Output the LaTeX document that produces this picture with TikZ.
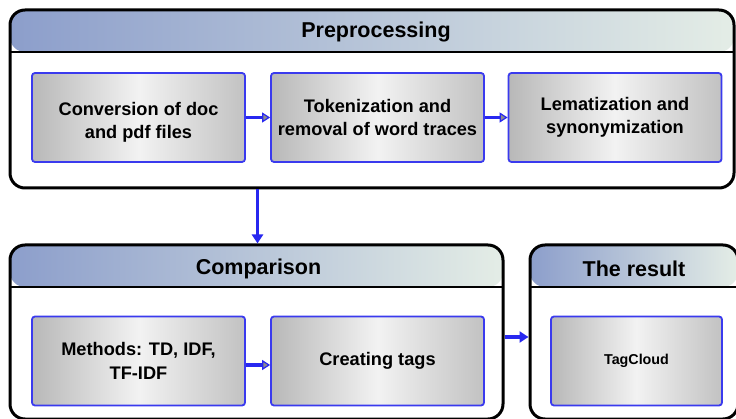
\documentclass[tikz,border=0pt]{standalone}
\usepackage{fontspec}
\setmainfont{Liberation Sans}
\usetikzlibrary{arrows.meta}
\definecolor{hdrleft}{RGB}{140,158,203}
\definecolor{hdrright}{RGB}{228,237,230}
\definecolor{boxedge}{RGB}{58,58,238}
\definecolor{flowblue}{RGB}{40,40,240}
\tikzset{
  panel/.style={draw=black,line width=3pt,rounded corners=15pt,fill=white,
    path picture={
      \shade[left color=hdrleft,right color=hdrright]
        (path picture bounding box.north west) rectangle
        ([yshift=-42pt]path picture bounding box.north east);
      \draw[line width=2.5pt] ([yshift=-42pt]path picture bounding box.north west) --
        ([yshift=-42pt]path picture bounding box.north east);
    }},
  paneltitle/.style={font=\fontsize{21.5}{24}\selectfont\bfseries},
  stage/.style={draw=boxedge,line width=1.8pt,rounded corners=3pt,
    left color=black!28,right color=black!24,middle color=black!5,
    minimum width=213pt,minimum height=89pt,align=center,
    font=\fontsize{18.2}{23.5}\selectfont\bfseries},
  inner/.style={line width=3.2pt,draw=flowblue,
    -{Triangle[length=8pt,width=10pt,line width=1.2pt,fill=black!45]}},
  outer/.style={line width=3.2pt,draw=flowblue,
    -{Triangle[length=9pt,width=11pt,fill=flowblue]}}
}
\begin{document}
\begin{tikzpicture}[x=1pt,y=-1pt]
\useasboundingbox (0,0) rectangle (736,419);
\clip (0,0) rectangle (736,419);
\node[panel,minimum width=724pt,minimum height=178pt] (pre) at (372,99) {};
\node[panel,minimum width=493pt,minimum height=174pt] (cmp) at (256.5,332) {};
\node[panel,minimum width=208pt,minimum height=174pt] (res) at (634,332) {};
\node[paneltitle] (pretitle) at ([xshift=4pt,yshift=-23pt]pre.north) {Preprocessing};
\node[paneltitle] (cmptitle) at ([xshift=2pt,yshift=-25pt]cmp.north) {Comparison};
\node[paneltitle] (restitle) at ([yshift=-25pt]res.north) {The result};
\node[stage] (conv) at (138.5,117.5) {\rule{0pt}{23pt}Conversion of doc\\and pdf files};
\node[stage] (tok) at (377.5,117.5) {Tokenization and\\removal of word traces};
\node[stage] (lem) at (615,117.5) {Lematization and\\synonymization};
\node[stage] (meth) at (138.5,361) {Methods: TD, IDF,\\TF-IDF};
\node[stage] (tags) at (377.5,361) {Creating tags};
\node[stage,minimum width=171pt,font=\fontsize{14.3}{18}\selectfont\bfseries] (cloud) at (636.5,361) {TagCloud};
\coordinate (drop) at (257.5,0);
\draw[inner] (conv) -- (tok);
\draw[inner] (tok) -- (lem);
\draw[inner] ([yshift=-4pt]meth.east) -- ([yshift=-4pt]tags.west);
\draw[outer] (pre.south -| drop) -- (cmp.north -| drop);
\draw[outer] ([yshift=-5pt]cmp.east) -- ([yshift=-5pt]res.west);
\end{tikzpicture}
\end{document}
